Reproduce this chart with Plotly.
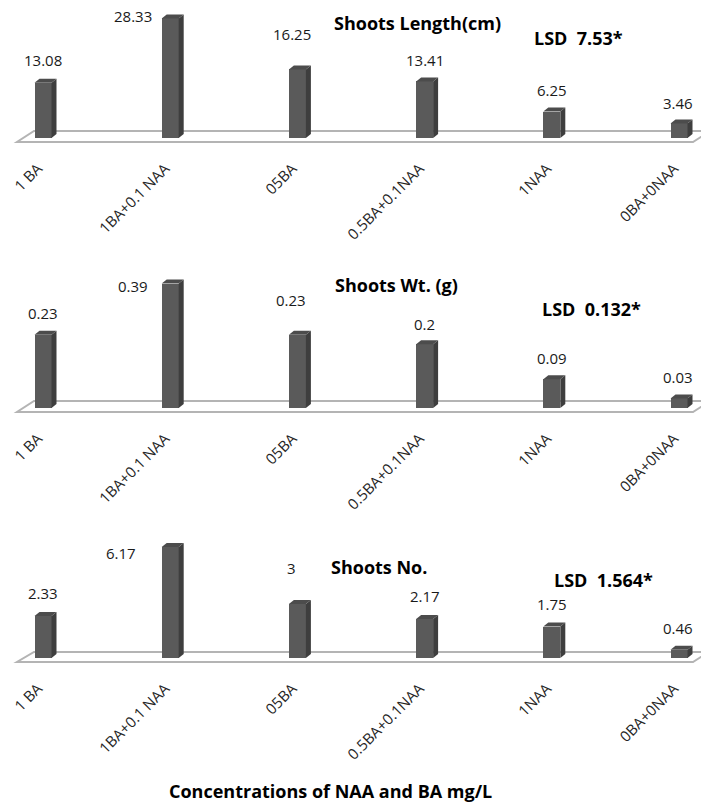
import plotly.graph_objects as go

# ---- data -------------------------------------------------------------
categories = ["1 BA", "1BA+0.1 NAA", "05BA", "0.5BA+0.1NAA", "1NAA", "0BA+0NAA"]
shoot_length = [13.08, 28.33, 16.25, 13.41, 6.25, 3.46]
shoot_weight = [0.23, 0.39, 0.23, 0.2, 0.09, 0.03]
shoot_number = [2.33, 6.17, 3, 2.17, 1.75, 0.46]
panel_titles = ["Shoots Length(cm)", "Shoots Wt. (g)", "Shoots No."]
lsd_labels = ["LSD  7.53*", "LSD  0.132*", "LSD  1.564*"]
x_title = "Concentrations of NAA and BA mg/L"

# ---- page geometry (pixels) --------------------------------------------
W, H = 701, 807
X0, DX = 43, 127.2            # centre of first category, spacing
BAR_W, DEP_X, DEP_Y = 17, 5, 4  # front width and 3-D depth of the columns
FONT = "Open Sans"

panels = [
    dict(values=shoot_length, base=138, scale=4.22, top=0, bottom=150,
         back=131, front=142, title_xy=(417, 23), lsd_xy=(578, 38),
         lab_dy=[19, -2, 31, 17, 18, 16], lab_dx=[0, -37, -5, 0, 0, -1]),
    dict(values=shoot_weight, base=408, scale=319, top=262, bottom=420,
         back=401, front=412, title_xy=(397, 285), lsd_xy=(591, 309),
         lab_dy=[18, -6, 31, 16, 17, 17], lab_dx=[0, -37, -6, 0, 0, -1]),
    dict(values=shoot_number, base=658, scale=18.0, top=520, bottom=670,
         back=652, front=662, title_xy=(379, 567), lsd_xy=(603, 580),
         lab_dy=[19, -10, 32, 19, 19, 18], lab_dx=[0, -49, -6, 0, 0, -1]),
]

x_range = [(0 - X0) / DX, (W - X0) / DX]
bw = BAR_W / DX
dxu = DEP_X / DX

FRONT_C, SIDE_C, TOP_C = "#5a5a5a", "#3e3e3e", "#4c4c4c"

fig = go.Figure()
shapes, annotations = [], []


def px(xp, yp):
    return xp / W, 1 - yp / H


for k, p in enumerate(panels, start=1):
    xa = "x" if k == 1 else f"x{k}"
    ya = "y" if k == 1 else f"y{k}"
    vals = p["values"]
    dyu = DEP_Y / p["scale"]
    idx = list(range(len(categories)))

    # front faces
    fig.add_trace(go.Bar(x=idx, y=vals, width=bw, marker_color=FRONT_C,
                         marker_line_width=0, xaxis=xa, yaxis=ya,
                         hoverinfo="skip", showlegend=False))
    # side and top faces
    for i, v in zip(idx, vals):
        r = i + bw / 2
        l = i - bw / 2
        fig.add_trace(go.Scatter(
            x=[r, r + dxu, r + dxu, r, r], y=[0, dyu, v + dyu, v, 0],
            fill="toself", fillcolor=SIDE_C, mode="lines", line_width=0,
            xaxis=xa, yaxis=ya, hoverinfo="skip", showlegend=False))
        fig.add_trace(go.Scatter(
            x=[l, r, r + dxu, l + dxu, l], y=[v, v, v + dyu, v + dyu, v],
            fill="toself", fillcolor=TOP_C, mode="lines", line_width=0,
            xaxis=xa, yaxis=ya, hoverinfo="skip", showlegend=False))
        # value label
        annotations.append(dict(
            x=i, y=v + dyu, xref=xa, yref=ya, text=str(v), showarrow=False,
            xanchor="center", yanchor="middle",
            xshift=p["lab_dx"][i], yshift=p["lab_dy"][i],
            font=dict(family=FONT, size=15, color="#1a1a1a")))

    # floor plane
    fx0, fy0 = px(17, p["front"])
    fx1, fy1 = px(693, p["front"])
    fx2, fy2 = px(693 + (p["front"] - p["back"]) * 17 / 11, p["back"])
    fx3, fy3 = px(34, p["back"])
    shapes.append(dict(
        type="path", xref="paper", yref="paper", layer="below",
        path=f"M {fx0},{fy0} L {fx1},{fy1} L {fx2},{fy2} L {fx3},{fy3} Z",
        line=dict(color="#b4b4b4", width=2), fillcolor="white"))

    # titles
    tx, ty = px(*p["title_xy"])
    annotations.append(dict(x=tx, y=ty, xref="paper", yref="paper",
                            text=f"<b>{panel_titles[k-1]}</b>", showarrow=False,
                            xanchor="center", yanchor="middle",
                            font=dict(family=FONT, size=18, color="black")))
    lx, ly = px(*p["lsd_xy"])
    annotations.append(dict(x=lx, y=ly, xref="paper", yref="paper",
                            text=f"<b>{lsd_labels[k-1]}</b>", showarrow=False,
                            xanchor="center", yanchor="middle",
                            font=dict(family=FONT, size=18, color="black")))

    # axes
    dom = [1 - p["bottom"] / H, 1 - p["top"] / H]
    yr = [(p["base"] - p["bottom"]) / p["scale"], (p["base"] - p["top"]) / p["scale"]]
    xkey = "xaxis" if k == 1 else f"xaxis{k}"
    ykey = "yaxis" if k == 1 else f"yaxis{k}"
    fig.update_layout({
        xkey: dict(domain=[0, 1], range=x_range, anchor=ya, tickvals=idx,
                   ticktext=categories, tickangle=-45, showgrid=False,
                   zeroline=False, showline=False, ticks="",
                   ticklabelstandoff=6, ticklabelshift=-5,
                   tickfont=dict(family=FONT, size=15, color="#262626")),
        ykey: dict(domain=dom, range=yr, anchor=xa, visible=False,
                   showgrid=False, zeroline=False),
    })

ax, ay = px(330, 791)
annotations.append(dict(x=ax, y=ay, xref="paper", yref="paper",
                        text=f"<b>{x_title}</b>", showarrow=False,
                        xanchor="center", yanchor="middle",
                        font=dict(family=FONT, size=18, color="black")))

fig.update_layout(width=W, height=H, margin=dict(l=0, r=0, t=0, b=0),
                  paper_bgcolor="white", plot_bgcolor="rgba(0,0,0,0)",
                  shapes=shapes, annotations=annotations, bargap=0)

fig.write_html("out.html")
